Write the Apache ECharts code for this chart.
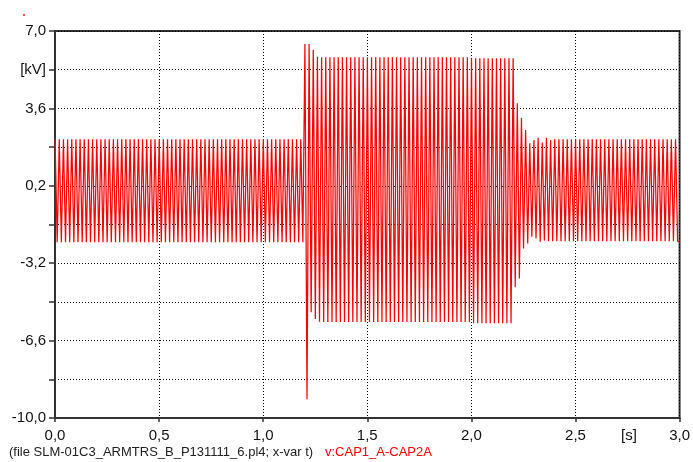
<!DOCTYPE html>
<html>
<head>
<meta charset="utf-8">
<script src="https://cdn.jsdelivr.net/npm/echarts@6/dist/echarts.min.js"></script>
<style>
  html, body { margin: 0; padding: 0; background: #fff; }
  #chart { width: 693px; height: 462px; }
</style>
</head>
<body>
<div id="chart"></div>
<script>
// Capacitor voltage v:CAP1_A-CAP2A, one crest pair per 50 Hz cycle (kV)
const PERIOD = 0.02;            // s
const AXIS_BASE = -10;          // kV at the bottom of the voltage axis
const xTicks = [0, 0.5, 1.0, 1.5, 2.0, 2.5, 3.0];

const crestHigh = [
  2.24, 2.24, 2.24, 2.24, 2.24, 2.24, 2.24, 2.24, 2.24, 2.24,
  2.24, 2.24, 2.24, 2.24, 2.24, 2.24, 2.24, 2.24, 2.24, 2.24,
  2.24, 2.24, 2.24, 2.24, 2.24, 2.24, 2.24, 2.24, 2.24, 2.24,
  2.24, 2.24, 2.24, 2.24, 2.24, 2.24, 2.24, 2.24, 2.24, 2.24,
  2.24, 2.24, 2.24, 2.24, 2.24, 2.24, 2.24, 2.24, 2.24, 2.24,
  2.24, 2.24, 2.24, 2.24, 2.24, 2.24, 2.24, 2.24, 2.24, 2.24,
  6.43, 6.43, 6.18, 5.87, 5.85, 5.85, 5.85, 5.85, 5.85, 5.85,
  5.85, 5.85, 5.85, 5.85, 5.85, 5.85, 5.85, 5.85, 5.85, 5.85,
  5.85, 5.85, 5.85, 5.85, 5.85, 5.85, 5.85, 5.85, 5.85, 5.85,
  5.85, 5.85, 5.85, 5.85, 5.85, 5.85, 5.85, 5.85, 5.85, 5.85,
  5.80, 5.80, 5.80, 5.80, 5.80, 5.80, 5.80, 5.80, 5.80, 5.80,
  5.80, 3.83, 3.19, 2.65, 2.07, 2.21, 2.31, 2.10, 2.31, 2.21,
  2.24, 2.24, 2.24, 2.24, 2.24, 2.24, 2.24, 2.24, 2.24, 2.24,
  2.24, 2.24, 2.24, 2.24, 2.24, 2.24, 2.24, 2.24, 2.24, 2.24,
  2.24, 2.24, 2.24, 2.24, 2.24, 2.24, 2.24, 2.24, 2.24, 2.24
];

const crestLow = [
  -2.28, -2.28, -2.28, -2.28, -2.28, -2.28, -2.28, -2.28, -2.28, -2.28,
  -2.28, -2.28, -2.28, -2.28, -2.28, -2.28, -2.28, -2.28, -2.28, -2.28,
  -2.28, -2.28, -2.28, -2.28, -2.28, -2.28, -2.28, -2.28, -2.28, -2.28,
  -2.28, -2.28, -2.28, -2.28, -2.28, -2.28, -2.28, -2.28, -2.28, -2.28,
  -2.28, -2.28, -2.28, -2.28, -2.28, -2.28, -2.28, -2.28, -2.28, -2.28,
  -2.28, -2.28, -2.28, -2.28, -2.28, -2.28, -2.28, -2.28, -2.28, -2.28,
  -9.18, -5.35, -5.65, -5.77, -5.78, -5.78, -5.78, -5.78, -5.78, -5.78,
  -5.78, -5.78, -5.78, -5.78, -5.78, -5.78, -5.78, -5.78, -5.78, -5.78,
  -5.78, -5.78, -5.78, -5.78, -5.78, -5.78, -5.78, -5.78, -5.78, -5.78,
  -5.78, -5.78, -5.78, -5.78, -5.78, -5.78, -5.78, -5.78, -5.78, -5.78,
  -5.84, -5.84, -5.84, -5.84, -5.84, -5.84, -5.84, -5.84, -5.84, -5.84,
  -4.26, -3.87, -2.55, -2.33, -2.04, -2.11, -2.26, -2.20, -2.23, -2.23,
  -2.24, -2.24, -2.24, -2.24, -2.24, -2.24, -2.24, -2.24, -2.24, -2.24,
  -2.24, -2.24, -2.24, -2.24, -2.24, -2.24, -2.24, -2.24, -2.24, -2.24,
  -2.24, -2.24, -2.24, -2.24, -2.24, -2.24, -2.24, -2.24, -2.24, -2.24
];

// Each cycle is drawn as a flat-topped wave: positive crest, then negative crest
const points = [];
crestHigh.forEach((hi, k) => {
  const t0 = k * PERIOD;
  const lo = crestLow[k];
  points.push([t0 + 0.0005, hi - AXIS_BASE]);
  points.push([t0 + 0.0090, hi - AXIS_BASE]);
  points.push([t0 + 0.0105, lo - AXIS_BASE]);
  points.push([t0 + 0.0190, lo - AXIS_BASE]);
});

const FONT = '"Liberation Sans", Arial, sans-serif';
const comma = v => v.toFixed(1).replace('.', ',').replace(/^-0,0$/, '0,0');

const chart = echarts.init(document.getElementById('chart'), null, { renderer: 'canvas' });
chart.setOption({
  animation: false,
  backgroundColor: '#fff',
  grid: {
    left: 55, right: 10, top: 31, bottom: 44,
    show: true, borderColor: '#333', borderWidth: 2, backgroundColor: 'transparent'
  },
  xAxis: {
    type: 'value',
    min: xTicks[0], max: xTicks[xTicks.length - 1], interval: 0.5,
    axisLine: { onZero: false, lineStyle: { color: '#333', width: 2 } },
    axisTick: { show: true, length: 4, lineStyle: { color: '#333', width: 1.5 } },
    axisLabel: {
      color: '#111', fontFamily: FONT, fontSize: 15, margin: 10,
      formatter: v => comma(v)
    },
    splitLine: { show: true, lineStyle: { color: '#000', width: 1, type: [1, 2] } }
  },
  yAxis: {
    type: 'value',
    min: 0, max: 17, interval: 1.7,
    axisLine: { onZero: false, lineStyle: { color: '#333', width: 2 } },
    axisTick: { show: true, length: 6, lineStyle: { color: '#333', width: 1.5 } },
    axisLabel: {
      color: '#111', fontFamily: FONT, fontSize: 15, margin: 9,
      formatter: (v) => {
        const k = Math.round(v / 1.7);
        if (k === 9) return '[kV]';
        if (k % 2 === 1) return '';
        return comma(v + AXIS_BASE);
      }
    },
    splitLine: { show: true, lineStyle: { color: '#000', width: 1, type: [1, 2] } }
  },
  series: [{
    name: 'v:CAP1_A-CAP2A',
    type: 'line',
    data: points,
    showSymbol: false,
    sampling: null,
    clip: true,
    lineStyle: { color: '#ff0000', width: 1.25 },
    z: 3
  }],
  graphic: [
    {
      type: 'text', left: 621, top: 428,
      style: { text: '[s]', fill: '#111', font: '15px ' + FONT }
    },
    {
      type: 'text', left: 9, top: 446,
      style: { text: '(file SLM-01C3_ARMTRS_B_P131111_6.pl4; x-var t)', fill: '#222', font: '13px ' + FONT }
    },
    {
      type: 'text', left: 325, top: 446,
      style: { text: 'v:CAP1_A-CAP2A', fill: '#ff0000', font: '13px ' + FONT }
    },
    {
      type: 'rect', shape: { x: 23, y: 14, width: 2, height: 2 },
      style: { fill: '#ff5050' }
    }
  ]
});
</script>
</body>
</html>
